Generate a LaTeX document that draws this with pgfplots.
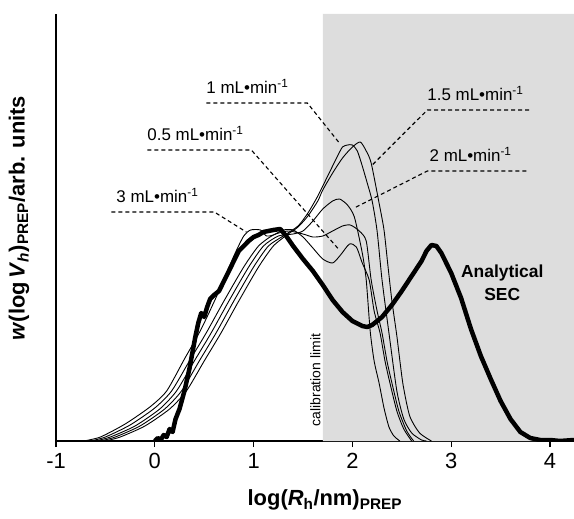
\documentclass[border=0pt]{standalone}
\usepackage{fontspec}
\setmainfont{Liberation Sans}
\usepackage{pgfplots}
\pgfplotsset{compat=1.18}
\definecolor{calgray}{RGB}{221,221,221}
\begin{document}
\begin{tikzpicture}
\begin{axis}[
  width=518bp, height=427bp, scale only axis,
  xmin=-1, xmax=4.243, ymin=0, ymax=427,
  axis lines*=left,
  axis line style={line width=1.1bp},
  ytick=\empty,
  xtick={-1,0,1,2,3,4}, xticklabels={-1,0,1,2,3,4},
  tick align=outside, major tick length=6bp,
  tick style={line width=1.1bp, black},
  x tick label style={font=\fontsize{22}{22}\selectfont, yshift=-3bp},
  xlabel={\textbf{log(\textit{R}\textsubscript{h}/nm)\textsubscript{PREP}}},
  xlabel style={at={(axis description cs:0.519,0)}, anchor=center, yshift=-59bp, font=\fontsize{22}{22}\selectfont},
  ylabel={\textbf{\textit{w}(log\,\textit{V}\textsubscript{\textit{h}})\textsubscript{PREP}/arb. units}},
  ylabel style={at={(axis description cs:-0.0714,0.522)}, anchor=center, font=\fontsize{22}{22}\selectfont},
  clip=true,
]
% calibration region
\addplot[fill=calgray, draw=none] coordinates {(1.7,0) (1.7,427) (4.243,427) (4.243,0)} \closedcycle;

% thin curves
% 1.5 mL/min
\addplot[black, line width=0.9bp, smooth, tension=0.4] coordinates {
(-0.5,0)(-0.35,4)(-0.1,15)(0.15,32)(0.32,50)(0.5,80)(0.67,108)(0.85,140)(1.05,174)(1.2,195)(1.35,207)(1.45,214)(1.55,225)(1.65,240)(1.7,251)(1.8,268)(1.9,283)(2.0,294)(2.08,299)(2.14,290)(2.19,278)(2.27,238)(2.32,211)(2.36,175)(2.4,140)(2.45,105)(2.51,58)(2.58,25)(2.68,8)(2.8,0)};
% 1 mL/min
\addplot[black, line width=0.9bp, smooth, tension=0.4] coordinates {
(-0.55,0)(-0.4,4)(-0.15,15)(0.1,32)(0.27,50)(0.45,80)(0.62,108)(0.8,140)(1.0,174)(1.15,195)(1.3,205)(1.45,215)(1.55,228)(1.65,245)(1.75,265)(1.85,285)(1.9,294)(1.95,296)(2.0,296)(2.05,290)(2.1,275)(2.15,258)(2.2,240)(2.25,210)(2.3,161)(2.37,108)(2.45,50)(2.52,22)(2.6,8)(2.7,1)(2.75,0)};
% 2 mL/min
\addplot[black, line width=0.9bp, smooth, tension=0.4] coordinates {
(-0.6,0)(-0.45,4)(-0.2,15)(0.05,32)(0.22,50)(0.4,80)(0.57,108)(0.75,140)(0.95,174)(1.1,195)(1.25,205)(1.4,207)(1.5,210)(1.6,220)(1.7,232)(1.8,240)(1.87,242)(1.95,236)(2.02,224)(2.1,188)(2.14,161)(2.18,110)(2.22,80)(2.27,58)(2.32,33)(2.37,14)(2.42,5)(2.48,0)};
% 0.5 mL/min
\addplot[black, line width=0.9bp, smooth, tension=0.4] coordinates {
(-0.65,0)(-0.5,4)(-0.25,16)(0,33)(0.17,50)(0.35,80)(0.52,108)(0.7,140)(0.9,174)(1.05,195)(1.2,206)(1.35,210)(1.5,207)(1.6,204)(1.7,205)(1.8,210)(1.9,215)(1.98,216)(2.07,210)(2.14,200)(2.19,161)(2.25,130)(2.3,108)(2.35,80)(2.4,58)(2.47,30)(2.55,10)(2.62,0)};
% 3 mL/min
\addplot[black, line width=0.9bp, smooth, tension=0.4] coordinates {
(-0.72,0)(-0.55,4)(-0.3,17)(-0.05,34)(0.12,50)(0.3,82)(0.47,112)(0.65,150)(0.8,185)(0.9,205)(0.97,211)(1.07,211)(1.13,205)(1.2,206)(1.3,211)(1.4,211)(1.5,204)(1.6,193)(1.7,182)(1.8,178)(1.88,186)(1.97,197)(2.04,194)(2.1,178)(2.17,161)(2.22,130)(2.28,108)(2.33,80)(2.38,58)(2.45,30)(2.52,12)(2.6,0)};

% analytical SEC (thick)
\addplot[black, line width=4.5bp, line join=round] coordinates {
(0.0,0)(0.03,3)(0.06,1)(0.09,6)(0.12,4)(0.15,12)(0.18,9)(0.21,22)(0.25,32)(0.3,50)(0.35,72)(0.38,88)(0.41,104)(0.44,118)(0.47,128)(0.5,124)(0.53,134)(0.56,142)(0.6,146)(0.65,150)(0.7,160)(0.75,170)(0.8,180)(0.85,190)(0.9,195)(0.95,200)(1.0,204)(1.05,206)(1.1,209)(1.2,211)(1.27,212)(1.33,205)(1.4,195)(1.5,182)(1.6,170)(1.7,156)(1.8,141)(1.9,129)(2.0,120)(2.1,115)(2.15,114)(2.2,116)(2.3,124)(2.4,136)(2.5,150)(2.6,165)(2.7,180)(2.75,190)(2.8,196)(2.85,195)(2.9,188)(3.0,168)(3.1,143)(3.2,112)(3.3,85)(3.4,62)(3.5,40)(3.6,22)(3.7,9)(3.8,3)(3.9,1)(4.0,1)(4.1,0)(4.243,1)};

% annotations
\tikzset{lead/.style={black, line width=1.1bp, dash pattern=on 4bp off 3bp}}
\draw[lead] (axis cs:0.521,338) -- (axis cs:1.544,338) -- (axis cs:1.868,298);
\node[anchor=base west, inner sep=0pt, font=\fontsize{17}{17}\selectfont] at (axis cs:0.521,347) {1 mL•min\textsuperscript{-1}};
\draw[lead] (axis cs:-0.076,291) -- (axis cs:0.977,291) -- (axis cs:1.868,191);
\node[anchor=base west, inner sep=0pt, font=\fontsize{17}{17}\selectfont] at (axis cs:-0.076,300) {0.5 mL•min\textsuperscript{-1}};
\draw[lead] (axis cs:-0.44,229) -- (axis cs:0.602,229) -- (axis cs:0.926,209);
\node[anchor=base west, inner sep=0pt, font=\fontsize{17}{17}\selectfont] at (axis cs:-0.39,238) {3 mL•min\textsuperscript{-1}};
\draw[lead] (axis cs:3.79,331) -- (axis cs:2.758,331) -- (axis cs:2.201,276);
\node[anchor=base west, inner sep=0pt, font=\fontsize{17}{17}\selectfont] at (axis cs:2.758,340) {1.5 mL•min\textsuperscript{-1}};
\draw[lead] (axis cs:3.76,270) -- (axis cs:2.758,270) -- (axis cs:2.019,233);
\node[anchor=base west, inner sep=0pt, font=\fontsize{17}{17}\selectfont] at (axis cs:2.78,279) {2 mL•min\textsuperscript{-1}};
\node[align=center, font=\fontsize{17.5}{23}\selectfont\bfseries] at (axis cs:3.517,158) {Analytical\\SEC};
\node[rotate=90, font=\fontsize{14}{14}\selectfont] at (axis cs:1.625,61) {calibration limit};
\end{axis}
\pgfresetboundingbox
\path[use as bounding box] (-56bp,-78bp) rectangle (518bp,441bp);
\end{tikzpicture}
\end{document}
